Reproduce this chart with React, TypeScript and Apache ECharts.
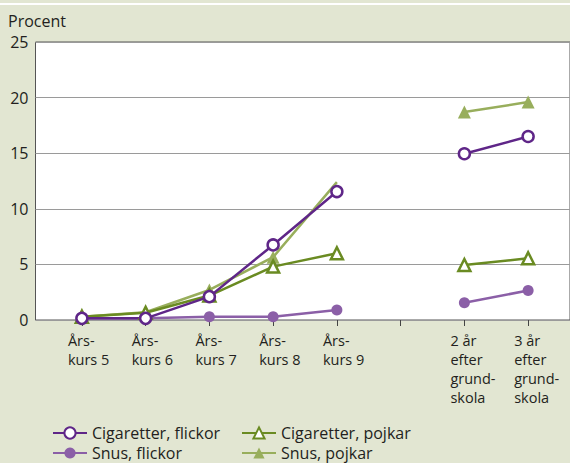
import React, { useEffect, useRef } from "react";
import * as echarts from "echarts";

const categories = [
  "Års-\nkurs 5",
  "Års-\nkurs 6",
  "Års-\nkurs 7",
  "Års-\nkurs 8",
  "Års-\nkurs 9",
  "",
  "2 år\nefter\ngrund-\nskola",
  "3 år\nefter\ngrund-\nskola",
];
const cigFlickor = [0.15, 0.15, 2.1, 6.75, 11.55, null, 14.95, 16.5];
const cigPojkar = [0.3, 0.65, 2.2, 4.8, 6.0, null, 4.95, 5.55];
const snusFlickor = [0.15, 0.15, 0.3, 0.3, 0.9, null, 1.55, 2.65];
const snusPojkar = [0.3, 0.7, 2.7, 5.65, 12.4, null, 18.7, 19.6];
const yTicks = [0, 5, 10, 15, 20, 25];

const FONT = "Open Sans";
const TXT = "#231f20";
const BG = "#e2e6d2";
const C_CF = "#5f2688";
const C_CP = "#6a8b22";
const C_SF = "#8b5fa7";
const C_SP = "#98ae5c";

export default function App() {
  const ref = useRef<HTMLDivElement>(null);
  useEffect(() => {
    if (!ref.current) return;
    const chart = echarts.init(ref.current, null, { renderer: "svg" });
    const gridTop = 42;
    const gridHeight = 278;
    const yMin = yTicks[0];
    const yMax = yTicks[yTicks.length - 1];
    const legendCommon = {
      orient: "vertical",
      top: 425,
      padding: 0,
      itemWidth: 34,
      itemHeight: 14,
      itemGap: 4,
      textStyle: { fontFamily: FONT, fontSize: 16, color: TXT },
    };
    const option: any = {
      animation: false,
      backgroundColor: BG,
      textStyle: { fontFamily: FONT, color: TXT },
      title: {
        text: "Procent",
        left: 3,
        top: 8,
        textStyle: { fontFamily: FONT, fontSize: 16, fontWeight: "normal", color: TXT },
      },
      graphic: [
        {
          type: "rect",
          shape: { x: 0, y: 3, width: 570, height: 2 },
          style: { fill: "#ffffff" },
          silent: true,
        },
      ],
      grid: [
        {
          left: 35.5,
          right: -3,
          top: gridTop,
          height: gridHeight,
          show: true,
          backgroundColor: "#ffffff",
          borderColor: "#555555",
          borderWidth: 1,
        },
        { left: 50, width: 510, top: gridTop, height: gridHeight },
        { left: 36, width: 510, top: gridTop, height: gridHeight },
      ],
      xAxis: [
        { gridIndex: 0, type: "value", min: 0, max: 1, show: false },
        {
          gridIndex: 1,
          type: "category",
          data: categories,
          boundaryGap: true,
          offset: 3,
          axisLine: { show: false },
          axisTick: { show: true, alignWithLabel: true, length: 6, lineStyle: { color: "#444", width: 1 } },
          axisLabel: { show: false },
        },
        {
          gridIndex: 2,
          type: "category",
          data: categories,
          boundaryGap: true,
          axisLine: { show: false },
          axisTick: { show: false },
          axisLabel: {
            show: true,
            interval: 0,
            align: "left",
            margin: 11,
            fontFamily: FONT,
            fontSize: 14.5,
            lineHeight: 19,
            color: TXT,
          },
        },
      ],
      yAxis: [
        {
          gridIndex: 0,
          type: "value",
          min: yMin,
          max: yMax,
          interval: 5,
          axisLine: { show: false },
          axisTick: { show: false },
          axisLabel: { margin: 7, fontFamily: FONT, fontSize: 16, color: TXT },
          splitLine: { show: true, lineStyle: { color: "#9a9a9a", width: 1 } },
        },
        { gridIndex: 1, type: "value", min: yMin, max: yMax, show: false },
        { gridIndex: 2, type: "value", min: yMin, max: yMax, show: false },
      ],
      legend: [
        { ...legendCommon, left: 52, data: ["Cigaretter, flickor", "Snus, flickor"] },
        { ...legendCommon, left: 241, data: ["Cigaretter, pojkar", "Snus, pojkar"] },
      ],
      series: [
        {
          name: "Snus, flickor",
          type: "line",
          xAxisIndex: 1,
          yAxisIndex: 1,
          data: snusFlickor,
          connectNulls: false,
          symbol: "circle",
          symbolSize: 11,
          lineStyle: { color: C_SF, width: 2.5 },
          itemStyle: { color: C_SF },
        },
        {
          name: "Snus, pojkar",
          type: "line",
          xAxisIndex: 1,
          yAxisIndex: 1,
          data: snusPojkar.map((v, i) => (i === 4 ? { value: v, symbol: "none" } : v)),
          connectNulls: false,
          symbol: "triangle",
          symbolSize: 13,
          lineStyle: { color: C_SP, width: 2.5 },
          itemStyle: { color: C_SP },
        },
        {
          name: "Cigaretter, pojkar",
          type: "line",
          xAxisIndex: 1,
          yAxisIndex: 1,
          data: cigPojkar,
          connectNulls: false,
          symbol: "triangle",
          symbolSize: 12,
          lineStyle: { color: C_CP, width: 2.5 },
          itemStyle: { color: "#ffffff", borderColor: C_CP, borderWidth: 2.5 },
        },
        {
          name: "Cigaretter, flickor",
          type: "line",
          xAxisIndex: 1,
          yAxisIndex: 1,
          data: cigFlickor,
          connectNulls: false,
          symbol: "circle",
          symbolSize: 11,
          lineStyle: { color: C_CF, width: 2.5 },
          itemStyle: { color: "#ffffff", borderColor: C_CF, borderWidth: 2.5 },
        },
      ],
    };
    chart.setOption(option);
    return () => chart.dispose();
  }, []);
  return (
    <div
      ref={ref}
      style={{ position: "fixed", left: 0, top: 0, width: 570, height: 463 }}
    />
  );
}
